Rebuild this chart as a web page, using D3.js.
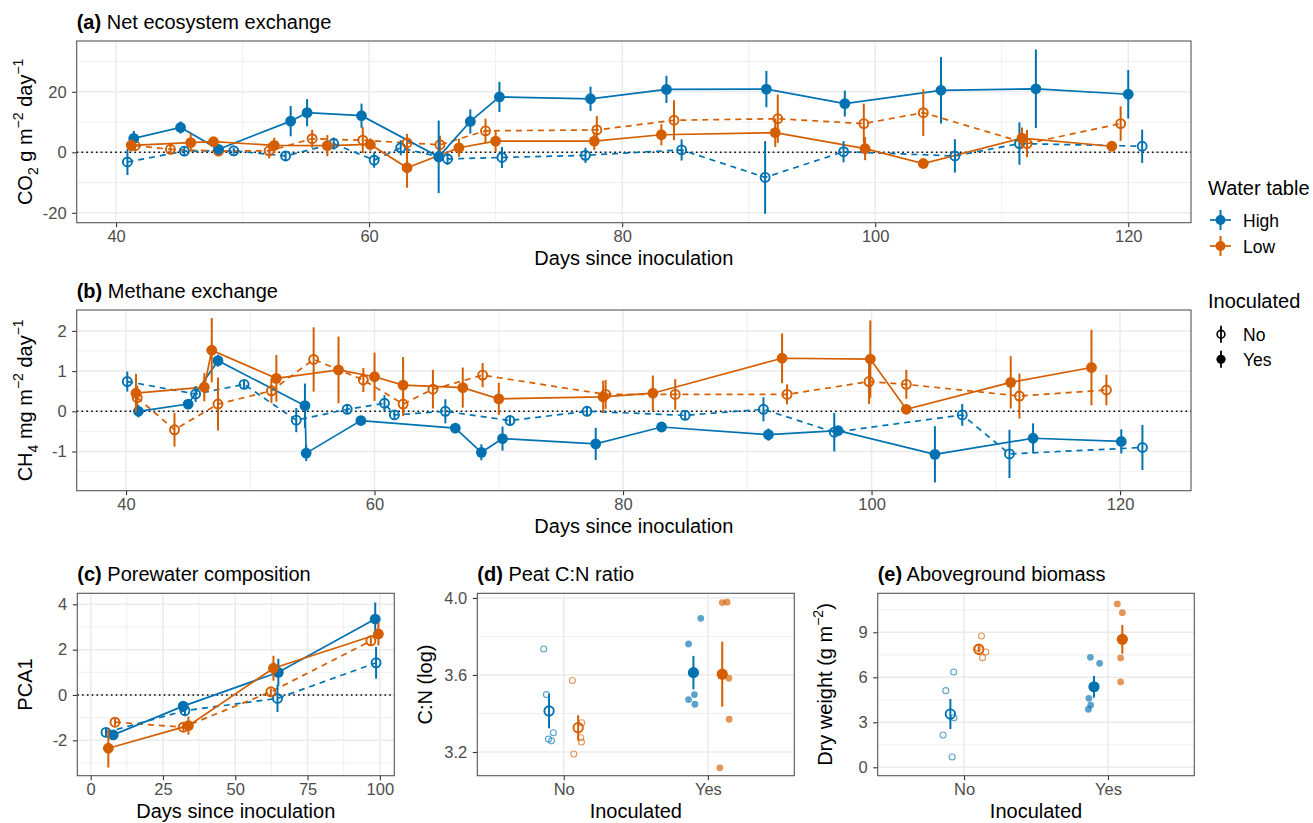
<!DOCTYPE html>
<html>
<head>
<meta charset="utf-8">
<script src="https://cdn.jsdelivr.net/npm/d3@7"></script>
<style>
  body { margin: 0; background: #fff; }
  text { font-family: 'Liberation Sans', Arial, sans-serif; }
</style>
</head>
<body>
<svg width="1313" height="823"></svg>
<script>
// ---- data ----
const waterTable = ['High', 'Low'];
const inoculated = ['No', 'Yes'];

const dayTicks = [40, 60, 80, 100, 120];
const co2Ticks = [-20, 0, 20];
const ch4Ticks = [-1, 0, 1, 2];
const pcaDayTicks = [0, 25, 50, 75, 100];
const pcaTicks = [-2, 0, 2, 4];
const cnTicks = [3.2, 3.6, 4.0];
const biomassTicks = [0, 3, 6, 9];

// [day, mean, error]
const co2HighYes = [[41.4,4.6,2.5],[45.1,8.2,2],[48.1,1.0,1.5],[53.8,10.3,5],[55.1,13.1,4.5],[59.4,12.1,4],[65.5,-1.5,12],[68,10.2,4],[70.3,18.3,5],[77.5,17.7,4],[83.5,20.8,4.5],[91.4,20.9,6],[97.6,16.1,4.3],[105.2,20.5,11],[112.7,21,13],[120,19.2,8]];
const co2LowYes = [[41.2,2.3,2],[45.9,3.2,3],[47.7,3.5,1.5],[52.5,2.3,2.5],[56.7,2.2,3.5],[60.1,2.6,2],[63,-5.1,6.6],[67.1,1.5,3],[70,3.7,3.5],[77.8,3.7,3],[83.1,5.8,3.5],[92.1,6.5,4.7],[99.2,1.2,3.8],[103.8,-3.7,1],[111.6,4.7,3.5],[118.7,2.0,1.5]];
const co2HighNo = [[40.9,-3.2,4.3],[45.4,0.4,1.5],[49.3,0.5,1],[53.4,-1.2,1.5],[57.2,2.9,2],[60.4,-2.6,2.5],[62.5,1.5,2.5],[66.2,-2.2,2],[70.5,-1.7,3.5],[77.1,-1.0,2.5],[84.7,0.8,3.5],[91.3,-8.3,12],[97.5,0.2,3.5],[106.3,-1.2,5.5],[111.4,2.9,7],[121.1,2.0,5.5]];
const co2LowNo = [[41.5,2.2,1.5],[44.3,1.0,1.5],[48.1,0.4,1.5],[52.1,0.5,2.5],[55.5,4.5,3],[59.5,4.0,4.3],[63,3.1,3],[65.6,2.5,3],[69.2,7.1,4],[78,7.4,4.6],[84.1,10.6,6.6],[92.3,11.1,8],[99.1,9.5,6.6],[103.8,13.1,7.7],[112,2.9,4.5],[119.4,9.5,5.7]];

const ch4HighYes = [[41.0,0.0,0.15],[45.0,0.18,0.1],[47.4,1.26,0.15],[54.4,0.14,0.55],[54.5,-1.04,0.2],[58.9,-0.23,0.1],[66.5,-0.42,0.1],[68.6,-1.02,0.2],[70.3,-0.68,0.3],[77.8,-0.81,0.4],[83.1,-0.39,0.1],[91.7,-0.58,0.15],[97.3,-0.48,0.1],[105.1,-1.07,0.7],[113,-0.67,0.37],[120.1,-0.75,0.3]];
const ch4LowYes = [[40.8,0.45,0.48],[46.3,0.6,0.35],[46.9,1.52,0.8],[52.1,0.82,0.58],[57.1,1.03,0.83],[60.0,0.86,0.6],[62.3,0.65,0.7],[67.1,0.59,0.5],[70.0,0.31,0.4],[78.4,0.36,0.4],[82.4,0.45,0.44],[92.8,1.32,0.62],[99.9,1.3,0.96],[102.8,0.05,0.1],[111.2,0.72,0.65],[117.7,1.09,0.94]];
const ch4HighNo = [[40.1,0.74,0.25],[45.6,0.43,0.2],[49.5,0.67,0.1],[53.7,-0.22,0.3],[57.8,0.05,0.1],[60.8,0.2,0.2],[61.6,-0.09,0.1],[65.7,0.0,0.3],[70.9,-0.23,0.1],[77.1,0.0,0.1],[85.0,-0.1,0.1],[91.3,0.05,0.3],[97.0,-0.52,0.48],[107.3,-0.09,0.27],[111.1,-1.06,0.6],[121.8,-0.9,0.56]];
const ch4LowNo = [[40.9,0.34,0.3],[43.9,-0.46,0.42],[47.4,0.18,0.66],[51.7,0.51,0.3],[55.1,1.29,0.8],[59.1,0.78,0.3],[62.3,0.18,0.3],[64.7,0.55,0.48],[68.7,0.9,0.3],[78.6,0.42,0.36],[84.2,0.42,0.38],[93.2,0.42,0.25],[99.8,0.74,0.56],[102.8,0.67,0.36],[111.9,0.38,0.56],[118.9,0.53,0.38]];

const pcaHighYes = [[7.8,-1.76,0.2],[32,-0.49,0.2],[64.9,1.0,0.6],[98.4,3.35,0.73]];
const pcaLowYes = [[6.1,-2.35,0.85],[33.8,-1.35,0.4],[63.2,1.18,0.55],[99.5,2.69,0.5]];
const pcaHighNo = [[5.3,-1.65,0.2],[32.6,-0.69,0.25],[64.6,-0.15,0.6],[98.7,1.42,0.7]];
const pcaLowNo = [[8.4,-1.2,0.15],[32,-1.42,0.15],[62.3,0.14,0.15],[96.9,2.39,0.15]];

// [x position (1 = No, 2 = Yes, jittered), value]
const cnHighNo = [[0.861,3.735],[0.88,3.498],[0.928,3.30],[0.894,3.267],[0.915,3.258]];
const cnLowNo = [[1.06,3.571],[1.125,3.352],[1.118,3.274],[1.123,3.252],[1.07,3.19]];
const cnHighYes = [[1.951,3.894],[1.866,3.761],[1.907,3.498],[1.866,3.472],[1.91,3.448]];
const cnLowYes = [[2.10,3.976],[2.134,3.978],[2.146,3.583],[2.148,3.37],[2.083,3.118]];
// [water table, inoculated, x position, mean, error]
const cnMeans = [['High','No',0.898,3.413,0.09],['Low','No',1.10,3.326,0.065],['High','Yes',1.90,3.612,0.087],['Low','Yes',2.10,3.604,0.169]];

const bmHighNo = [[0.928,6.35],[0.873,5.11],[0.93,3.3],[0.854,2.15],[0.917,0.69]];
const bmLowNo = [[1.121,8.75],[1.097,7.93],[1.151,7.69],[1.128,7.31]];
const bmHighYes = [[1.878,7.33],[1.942,6.93],[1.868,4.6],[1.88,4.15],[1.864,3.87]];
const bmLowYes = [[2.065,10.89],[2.10,10.31],[2.088,7.29],[2.088,5.69]];
const bmMeans = [['High','No',0.905,3.55,1.0],['Low','No',1.102,7.87,0.2],['High','Yes',1.903,5.37,0.72],['Low','Yes',2.10,8.53,0.96]];

// ---- drawing ----
const svg = d3.select('svg');
const colour = {High: '#0072B2', Low: '#D55E00'};
const grid = '#ebebeb';
const tickCol = '#4d4d4d';

function richText(sel, parts, size) {
  parts.forEach(p => {
    const t = sel.append('tspan').text(p.t);
    if (p.sub) t.attr('font-size', size * 0.7).attr('dy', size * 0.3);
    else if (p.sup) t.attr('font-size', size * 0.7).attr('dy', -size * 0.45);
    if (p.back) t.attr('dy', p.back * size);
  });
}

function panel(o) {
  const x = d3.scaleLinear().domain(o.xDomain).range([o.left, o.right]);
  const y = d3.scaleLinear().domain(o.yDomain).range([o.bottom, o.top]);
  const g = svg.append('g');

  const vline = (vals, w) => g.selectAll(null).data(vals).join('line')
    .attr('x1', d => x(d)).attr('x2', d => x(d))
    .attr('y1', o.top).attr('y2', o.bottom)
    .attr('stroke', grid).attr('stroke-width', w);
  const hline = (vals, w) => g.selectAll(null).data(vals).join('line')
    .attr('x1', o.left).attr('x2', o.right)
    .attr('y1', d => y(d)).attr('y2', d => y(d))
    .attr('stroke', grid).attr('stroke-width', w);
  vline(o.xMinor || [], 0.8);
  hline(o.yMinor || [], 0.8);
  vline(o.xTicks, 1.5);
  hline(o.yTicks, 1.5);

  const xAxis = g.append('g').attr('transform', `translate(0,${o.bottom})`)
    .call(d3.axisBottom(x).tickValues(o.xTicks).tickFormat(o.xFormat || (d => String(d)))
      .tickSize(4.5).tickPadding(3));
  const yAxis = g.append('g').attr('transform', `translate(${o.left},0)`)
    .call(d3.axisLeft(y).tickValues(o.yTicks).tickFormat(o.yFormat || (d => String(d)))
      .tickSize(4.5).tickPadding(5.5));
  [xAxis, yAxis].forEach(a => {
    a.select('.domain').remove();
    a.selectAll('.tick line').attr('stroke', '#333').attr('stroke-width', 1.1);
    a.selectAll('.tick text').attr('fill', tickCol).attr('font-size', 16.5)
      .attr('font-family', "'Liberation Sans', Arial, sans-serif");
  });

  if (o.zero) {
    g.append('line').attr('x1', o.left).attr('x2', o.right)
      .attr('y1', y(0)).attr('y2', y(0))
      .attr('stroke', '#000').attr('stroke-width', 1.6).attr('stroke-dasharray', '1.6,3.2');
  }

  g.append('rect').attr('x', o.left).attr('y', o.top)
    .attr('width', o.right - o.left).attr('height', o.bottom - o.top)
    .attr('fill', 'none').attr('stroke', '#555').attr('stroke-width', 1.1);

  const title = g.append('text').attr('x', o.left).attr('y', o.top - 12).attr('font-size', 20);
  title.append('tspan').attr('font-weight', 'bold').text(o.tag);
  title.append('tspan').text(' ' + o.title);

  g.append('text').attr('x', (o.left + o.right) / 2).attr('y', o.bottom + 42.5)
    .attr('text-anchor', 'middle').attr('font-size', 20).text(o.xLabel);

  const yl = g.append('text').attr('text-anchor', 'middle').attr('font-size', 20)
    .attr('transform', `translate(${o.yLabelX},${(o.top + o.bottom) / 2}) rotate(-90)`);
  richText(yl, o.yLabel, 20);

  return {g, x, y};
}

function series(p, data, wt, ino) {
  const filled = ino === 'Yes';
  p.g.append('path').datum(data)
    .attr('d', d3.line().x(d => p.x(d[0])).y(d => p.y(d[1])))
    .attr('fill', 'none').attr('stroke', colour[wt]).attr('stroke-width', 1.7)
    .attr('stroke-dasharray', filled ? null : '6,5');
}

function pointranges(p, data, wt, ino, r) {
  const filled = ino === 'Yes';
  p.g.selectAll(null).data(data).join('line')
    .attr('x1', d => p.x(d[0])).attr('x2', d => p.x(d[0]))
    .attr('y1', d => p.y(d[1] - d[2])).attr('y2', d => p.y(d[1] + d[2]))
    .attr('stroke', colour[wt]).attr('stroke-width', 2);
  p.g.selectAll(null).data(data).join('circle')
    .attr('cx', d => p.x(d[0])).attr('cy', d => p.y(d[1]))
    .attr('r', filled ? r : r - 0.9)
    .attr('fill', filled ? colour[wt] : 'none')
    .attr('stroke', colour[wt]).attr('stroke-width', filled ? 0 : 1.9);
}

function rawPoints(p, data, wt, ino) {
  const filled = ino === 'Yes';
  p.g.selectAll(null).data(data).join('circle')
    .attr('cx', d => p.x(d[0])).attr('cy', d => p.y(d[1]))
    .attr('r', filled ? 3.4 : 3)
    .attr('fill', filled ? colour[wt] : 'none')
    .attr('fill-opacity', 0.65)
    .attr('stroke', colour[wt]).attr('stroke-opacity', 0.65)
    .attr('stroke-width', filled ? 0 : 1.1);
}

const co2Label = [{t: 'CO'}, {t: '2', sub: true}, {t: ' g m', back: -0.3}, {t: '\u22122', sup: true},
  {t: ' day', back: 0.45}, {t: '\u22121', sup: true}];
const ch4Label = [{t: 'CH'}, {t: '4', sub: true}, {t: ' mg m', back: -0.3}, {t: '\u22122', sup: true},
  {t: ' day', back: 0.45}, {t: '\u22121', sup: true}];

// (a)
const pa = panel({
  left: 76.7, right: 1191, top: 41, bottom: 222.7,
  xDomain: [36.89, 124.96], yDomain: [-23.27, 36.8],
  xTicks: dayTicks, xMinor: [50, 70, 90, 110], yTicks: co2Ticks, yMinor: [-10, 10, 30],
  zero: true, tag: '(a)', title: 'Net ecosystem exchange', xLabel: 'Days since inoculation',
  yLabel: co2Label, yLabelX: 32
});
// (b)
const pb = panel({
  left: 76.7, right: 1191, top: 310, bottom: 490.7,
  xDomain: [36.03, 125.71], yDomain: [-1.975, 2.52],
  xTicks: dayTicks, xMinor: [50, 70, 90, 110], yTicks: ch4Ticks, yMinor: [-1.5, -0.5, 0.5, 1.5],
  zero: true, tag: '(b)', title: 'Methane exchange', xLabel: 'Days since inoculation',
  yLabel: ch4Label, yLabelX: 32
});
// (c)
const pc = panel({
  left: 77.3, right: 394.3, top: 593.3, bottom: 775.7,
  xDomain: [-4.63, 105.0], yDomain: [-3.56, 4.486],
  xTicks: pcaDayTicks, xMinor: [12.5, 37.5, 62.5, 87.5], yTicks: pcaTicks, yMinor: [-3, -1, 1, 3],
  zero: true, tag: '(c)', title: 'Porewater composition', xLabel: 'Days since inoculation',
  yLabel: [{t: 'PCA1'}], yLabelX: 32
});
// (d)
const pd = panel({
  left: 477.3, right: 794.3, top: 593.3, bottom: 775.7,
  xDomain: [0.4, 2.6], yDomain: [3.077, 4.024],
  xTicks: [1, 2], xFormat: i => inoculated[i - 1], yTicks: cnTicks, yMinor: [3.4, 3.8],
  yFormat: d3.format('.1f'),
  tag: '(d)', title: 'Peat C:N ratio', xLabel: 'Inoculated',
  yLabel: [{t: 'C:N (log)'}], yLabelX: 432
});
// (e)
const pe = panel({
  left: 877.7, right: 1194.3, top: 593.3, bottom: 775.7,
  xDomain: [0.4, 2.6], yDomain: [-0.56, 11.6],
  xTicks: [1, 2], xFormat: i => inoculated[i - 1], yTicks: biomassTicks, yMinor: [1.5, 4.5, 7.5, 10.5],
  tag: '(e)', title: 'Aboveground biomass', xLabel: 'Inoculated',
  yLabel: [{t: 'Dry weight (g m'}, {t: '\u22122', sup: true}, {t: ')', back: 0.45}], yLabelX: 832
});

const timeSeries = [
  [pa, co2HighNo, 'High', 'No'], [pa, co2LowNo, 'Low', 'No'], [pa, co2HighYes, 'High', 'Yes'], [pa, co2LowYes, 'Low', 'Yes'],
  [pb, ch4HighNo, 'High', 'No'], [pb, ch4LowNo, 'Low', 'No'], [pb, ch4HighYes, 'High', 'Yes'], [pb, ch4LowYes, 'Low', 'Yes'],
  [pc, pcaHighNo, 'High', 'No'], [pc, pcaLowNo, 'Low', 'No'], [pc, pcaHighYes, 'High', 'Yes'], [pc, pcaLowYes, 'Low', 'Yes']
];
timeSeries.forEach(([p, d, wt, ino]) => series(p, d, wt, ino));
timeSeries.forEach(([p, d, wt, ino]) => pointranges(p, d, wt, ino, 5.4));

[[pd, cnHighNo, 'High', 'No'], [pd, cnLowNo, 'Low', 'No'], [pd, cnHighYes, 'High', 'Yes'], [pd, cnLowYes, 'Low', 'Yes'],
 [pe, bmHighNo, 'High', 'No'], [pe, bmLowNo, 'Low', 'No'], [pe, bmHighYes, 'High', 'Yes'], [pe, bmLowYes, 'Low', 'Yes']]
  .forEach(([p, d, wt, ino]) => rawPoints(p, d, wt, ino));
[[pd, cnMeans], [pe, bmMeans]].forEach(([p, means]) => {
  means.forEach(m => pointranges(p, [[m[2], m[3], m[4]]], m[0], m[1], 5.6));
});

// ---- legends ----
const lg = svg.append('g');
lg.append('text').attr('x', 1208).attr('y', 195).attr('font-size', 20).text('Water table');
waterTable.forEach((wt, i) => {
  const cy = 220 + i * 26;
  lg.append('line').attr('x1', 1210).attr('x2', 1231).attr('y1', cy).attr('y2', cy)
    .attr('stroke', colour[wt]).attr('stroke-width', 1.7);
  lg.append('line').attr('x1', 1220.5).attr('x2', 1220.5).attr('y1', cy - 10).attr('y2', cy + 10)
    .attr('stroke', colour[wt]).attr('stroke-width', 2);
  lg.append('circle').attr('cx', 1220.5).attr('cy', cy).attr('r', 5).attr('fill', colour[wt]);
  lg.append('text').attr('x', 1243).attr('y', cy + 6.5).attr('font-size', 17.5).text(wt);
});
lg.append('text').attr('x', 1208).attr('y', 308).attr('font-size', 20).text('Inoculated');
inoculated.forEach((ino, i) => {
  const cy = 334.3 + i * 25;
  lg.append('line').attr('x1', 1221).attr('x2', 1221).attr('y1', cy - 8.5).attr('y2', cy + 8.5)
    .attr('stroke', '#000').attr('stroke-width', 1.8);
  lg.append('circle').attr('cx', 1221).attr('cy', cy).attr('r', ino === 'Yes' ? 4.6 : 3.9)
    .attr('fill', ino === 'Yes' ? '#000' : 'none').attr('stroke', '#000')
    .attr('stroke-width', ino === 'Yes' ? 0 : 1.6);
  lg.append('text').attr('x', 1243).attr('y', cy + 6.5).attr('font-size', 17.5).text(ino);
});
</script>
</body>
</html>
